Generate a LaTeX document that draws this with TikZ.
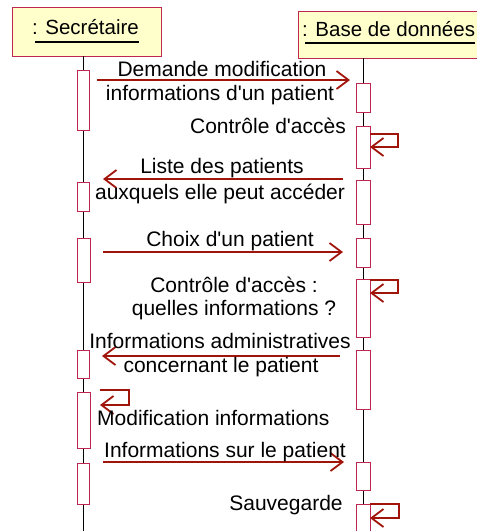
\documentclass[tikz,border=0pt]{standalone}
\usepackage{fontspec}
\setmainfont{Liberation Sans}
\usetikzlibrary{arrows.meta}
\definecolor{boxred}{RGB}{190,40,80}
\definecolor{msgred}{RGB}{160,20,10}
\definecolor{headfill}{RGB}{255,255,204}
\newcommand{\sq}{\textquotesingle}
\begin{document}
\begin{tikzpicture}[x=1pt,y=-1pt,
  txt/.style={font=\fontsize{21}{25}\selectfont, inner sep=0pt, anchor=base},
  htxt/.style={font=\fontsize{20.5}{25}\selectfont, inner sep=0pt, anchor=base},
  act/.style={draw=boxred, fill=white, line width=1.2pt, inner sep=0pt, minimum width=12pt, anchor=north west},
  msg/.style={draw=msgred, line width=1.8pt, -{Straight Barb[length=12pt,width=18pt]}},
  life/.style={draw=black, line width=0.8pt},
  uline/.style={draw=black, line width=1.4pt},
  head/.style={draw=boxred, fill=headfill, line width=1.2pt, inner sep=0pt, anchor=north west}]
\useasboundingbox (0,0) rectangle (477,531);
\clip (0,0) rectangle (477,531);
% headers
\node[head, minimum width=149pt, minimum height=49pt] (hsec) at (12,7) {};
\node[head, minimum width=190pt, minimum height=47pt] (hdb) at (298,11) {};
\node[htxt] (tsec) at (85.5,34) {: Secrétaire};
\node[htxt, anchor=base west] (tdb) at (302,36) {: Base de données};
\draw[uline] ([xshift=3pt,yshift=-8pt]tsec.base west) -- ([yshift=-8pt]tsec.base east);
\draw[uline] ([xshift=3pt,yshift=-7pt]tdb.base west) -- ([yshift=-7pt]tdb.base east);
% lifelines
\coordinate (sTop) at (83,56);
\coordinate (sBot) at (83,531);
\coordinate (dTop) at (363,58);
\coordinate (dBot) at (363,531);
\draw[life] (sTop) -- (sBot);
\draw[life] (dTop) -- (dBot);
% activation boxes, Secretaire
\node[act, minimum height=60pt] (L1) at (77,70) {};
\node[act, minimum height=29pt] (L2) at (77,182) {};
\node[act, minimum height=44pt, minimum width=13pt] (L3) at (77,238) {};
\node[act, minimum height=28pt] (L4) at (77,350) {};
\node[act, minimum height=56pt, minimum width=13pt] (L5) at (77,392) {};
\node[act, minimum height=41pt] (L6) at (77,463) {};
% activation boxes, Base
\node[act, minimum height=29pt, minimum width=14pt] (R1) at (356,83) {};
\node[act, minimum height=42pt, minimum width=14pt] (R2) at (356,126) {};
\node[act, minimum height=44pt, minimum width=14pt] (R3) at (356,180) {};
\node[act, minimum height=29pt, minimum width=14pt] (R4) at (356,238) {};
\node[act, minimum height=58pt, minimum width=14pt] (R5) at (356,279) {};
\node[act, minimum height=59pt, minimum width=14pt] (R6) at (356,350) {};
\node[act, minimum height=28pt, minimum width=14pt] (R7) at (356,462) {};
\node[act, minimum height=40pt, minimum width=14pt] (R8) at (356,504) {};
% message end points
\coordinate (m1a) at (97,80);   \coordinate (m1b) at (350,80);
\coordinate (s1a) at (370,134); \coordinate (s1b) at (398,134); \coordinate (s1c) at (398,147); \coordinate (s1d) at (370,147);
\coordinate (m3a) at (343,179); \coordinate (m3b) at (103,179);
\coordinate (m4a) at (103,252); \coordinate (m4b) at (343,252);
\coordinate (s2a) at (370,280); \coordinate (s2b) at (398,280); \coordinate (s2c) at (398,293); \coordinate (s2d) at (370,293);
\coordinate (m6a) at (340,356); \coordinate (m6b) at (102,356);
\coordinate (s3a) at (100,390); \coordinate (s3b) at (129,390); \coordinate (s3c) at (129,405); \coordinate (s3d) at (100,405);
\coordinate (m8a) at (103,462); \coordinate (m8b) at (344,462);
\coordinate (s4a) at (370,504); \coordinate (s4b) at (399,504); \coordinate (s4c) at (399,518); \coordinate (s4d) at (370,518);
% messages
\draw[msg] (m1a) -- (m1b);
\draw[msg] (s1a) -- (s1b) -- (s1c) -- (s1d);
\draw[msg] (m3a) -- (m3b);
\draw[msg] (m4a) -- (m4b);
\draw[msg] (s2a) -- (s2b) -- (s2c) -- (s2d);
\draw[msg] (m6a) -- (m6b);
\draw[msg] (s3a) -- (s3b) -- (s3c) -- (s3d);
\draw[msg] (m8a) -- (m8b);
\draw[msg] (s4a) -- (s4b) -- (s4c) -- (s4d);
% labels
\node[txt] (t1a) at (222,76) {Demande modification};
\node[txt] (t1b) at (220,100) {informations d\sq un patient};
\node[txt] (t2) at (268,133) {Contrôle d\sq accès};
\node[txt] (t3a) at (222,173) {Liste des patients};
\node[txt] (t3b) at (220,199) {auxquels elle peut accéder};
\node[txt] (t4) at (230,246) {Choix d\sq un patient};
\node[txt] (t5a) at (234,292) {Contrôle d\sq accès :};
\node[txt] (t5b) at (234,315) {quelles informations ?};
\node[txt] (t6a) at (220,348) {Informations administratives};
\node[txt] (t6b) at (221,372) {concernant le patient};
\node[txt, anchor=base west] (t7) at (97,425) {Modification informations};
\node[txt] (t8) at (225,457) {Informations sur le patient};
\node[txt] (t9) at (286,510) {Sauvegarde};
\end{tikzpicture}
\end{document}
